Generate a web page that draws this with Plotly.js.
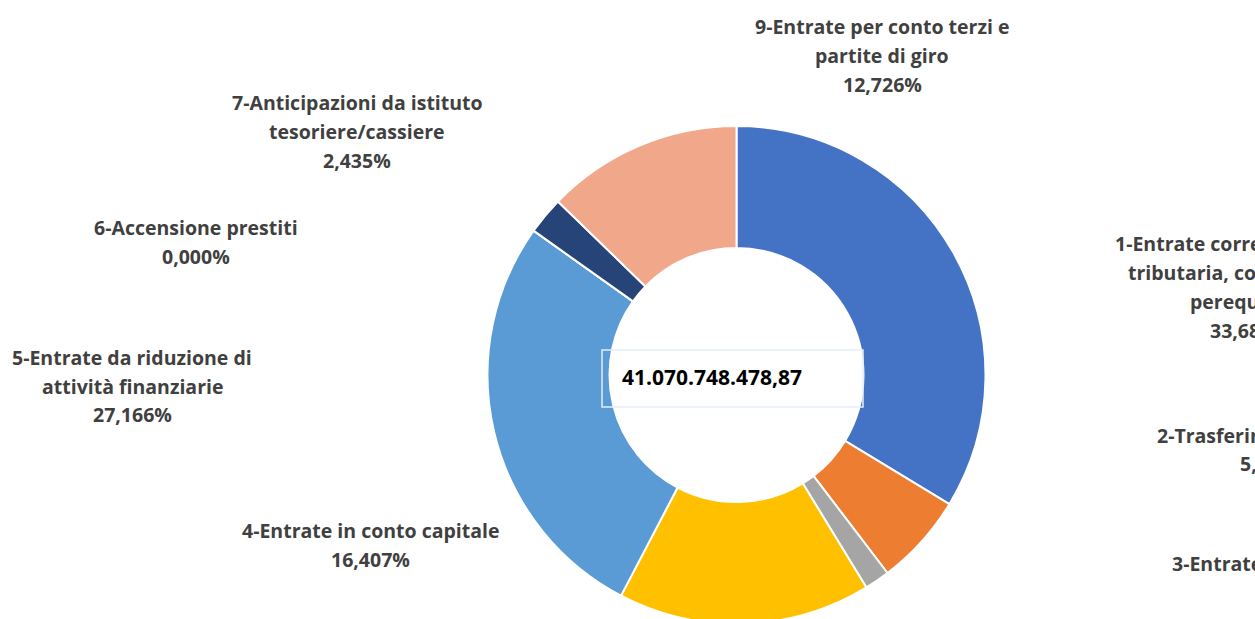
<!DOCTYPE html>
<html>
<head>
<meta charset="utf-8">
<script src="https://cdn.plot.ly/plotly-3.0.1.min.js"></script>
<style>
html, body { margin: 0; padding: 0; overflow: hidden; background: #ffffff; }
#chart { width: 1255px; height: 650px; }
</style>
</head>
<body>
<div id="chart"></div>
<script>
// ---- data ----
const categories = [
  "1-Entrate correnti di natura tributaria, contributiva e perequativa",
  "2-Trasferimenti correnti",
  "3-Entrate extratributarie",
  "4-Entrate in conto capitale",
  "5-Entrate da riduzione di attività finanziarie",
  "6-Accensione prestiti",
  "7-Anticipazioni da istituto tesoriere/cassiere",
  "9-Entrate per conto terzi e partite di giro"
];
const shares = [33.680, 5.950, 1.636, 16.407, 27.166, 0.000, 2.435, 12.726];
const labelLines = [
  ["1-Entrate correnti di natura", "tributaria, contributiva e", "perequativa"],
  ["2-Trasferimenti correnti"],
  ["3-Entrate extratributarie"],
  ["4-Entrate in conto capitale"],
  ["5-Entrate da riduzione di", "attività finanziarie"],
  ["6-Accensione prestiti"],
  ["7-Anticipazioni da istituto", "tesoriere/cassiere"],
  ["9-Entrate per conto terzi e", "partite di giro"]
];
const totalLabel = "41.070.748.478,87";
const sliceColors = ["#4472C4", "#ED7D31", "#A5A5A5", "#FFC000", "#5B9BD5", "#70AD47", "#264478", "#F0A78A"];

// ---- layout (pixels) ----
const W = 1255, H = 650;
const cx = 736.5, cy = 375, R = 249;
// label block centres (x) and first-line middle (y), in pixels
const labelPos = [
  [1249, 243], [1274, 435], [1293, 563], [370, 530],
  [132, 357], [196, 227], [357, 102], [882, 27]
];
const lineGap = 29;

function fmtPct(v) {
  return v.toFixed(3).replace(".", ",") + "%";
}

const px = x => x / W;
const py = y => (H - y) / H;

const annotations = [];
categories.forEach((c, i) => {
  const lines = labelLines[i].concat([fmtPct(shares[i])]);
  lines.forEach((t, k) => {
    annotations.push({
      xref: "paper", yref: "paper",
      x: px(labelPos[i][0]), y: py(labelPos[i][1] + k * lineGap),
      xanchor: "center", yanchor: "middle",
      text: "<b>" + t + "</b>", showarrow: false,
      font: { family: "'Open Sans', 'Noto Sans', sans-serif", size: 19.5, color: "#404040" }
    });
  });
});
annotations.push({
  xref: "paper", yref: "paper",
  x: px(712), y: py(377),
  xanchor: "center", yanchor: "middle",
  text: "<b>" + totalLabel + "</b>", showarrow: false,
  font: { family: "'Open Sans', 'Noto Sans', sans-serif", size: 21, color: "#000000" }
});

const trace = {
  type: "pie",
  labels: categories,
  values: shares,
  sort: false,
  direction: "clockwise",
  rotation: 0,
  hole: 0.51,
  textinfo: "none",
  hoverinfo: "label+percent",
  marker: { colors: sliceColors, line: { color: "#ffffff", width: 2 } },
  domain: { x: [px(cx - R), px(cx + R)], y: [py(cy + R), py(cy - R)] },
  showlegend: false
};

const layout = {
  width: W, height: H,
  margin: { l: 0, r: 0, t: 0, b: 0 },
  paper_bgcolor: "#ffffff",
  plot_bgcolor: "#ffffff",
  showlegend: false,
  annotations: annotations,
  shapes: [{
    type: "rect", xref: "paper", yref: "paper",
    x0: px(602), x1: px(863), y0: py(407), y1: py(350),
    line: { color: "#E6EEF8", width: 1.5 }, fillcolor: "rgba(0,0,0,0)", layer: "above"
  }]
};

Plotly.newPlot("chart", [trace], layout, { displayModeBar: false, staticPlot: true });
</script>
</body>
</html>
